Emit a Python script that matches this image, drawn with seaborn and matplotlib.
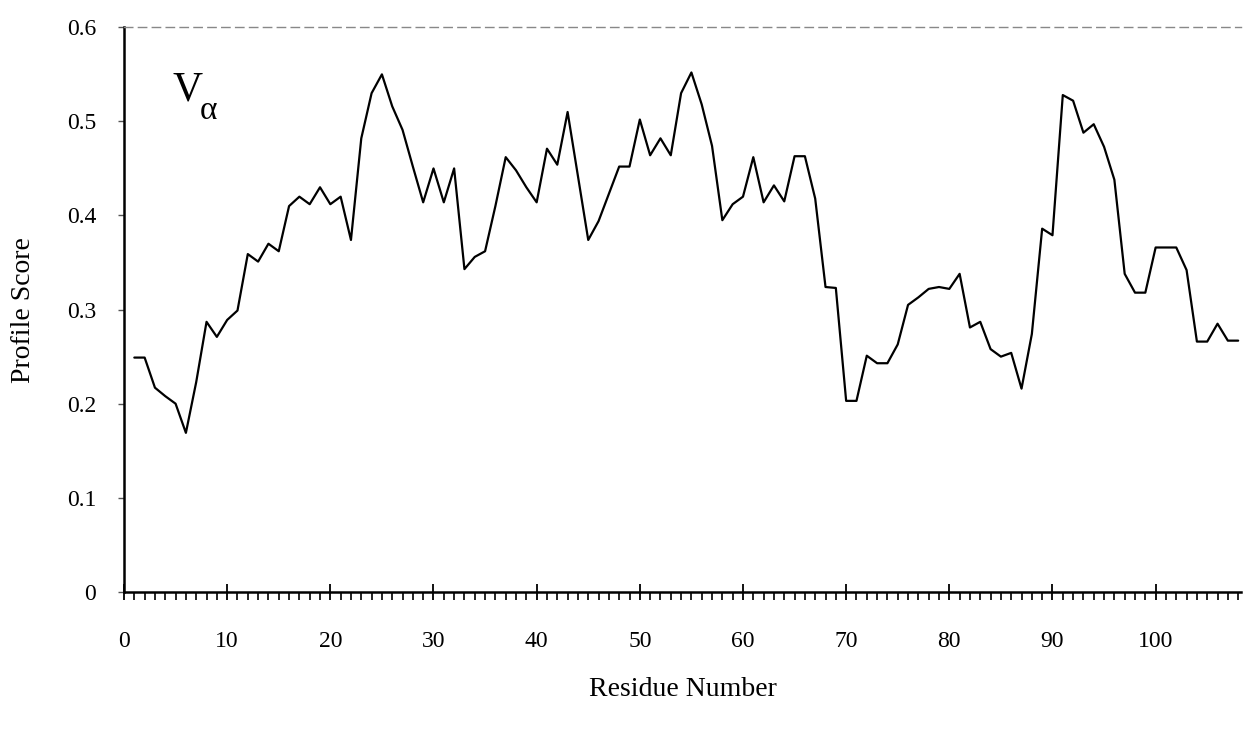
import numpy as np
import pandas as pd
import matplotlib
matplotlib.use("Agg")
import matplotlib.pyplot as plt
import seaborn as sns
from matplotlib.ticker import MultipleLocator

residues = list(range(1, 109))
scores = [
    0.249, 0.249, 0.217, 0.208, 0.200, 0.169, 0.223, 0.287, 0.271, 0.289,
    0.299, 0.359, 0.351, 0.370, 0.362, 0.410, 0.420, 0.412, 0.430, 0.412,
    0.420, 0.374, 0.482, 0.530, 0.550, 0.516, 0.491, 0.452, 0.414, 0.450,
    0.414, 0.450, 0.343, 0.356, 0.362, 0.410, 0.462, 0.448, 0.430, 0.414,
    0.471, 0.454, 0.510, 0.442, 0.374, 0.394, 0.423, 0.452, 0.452, 0.502,
    0.464, 0.482, 0.464, 0.530, 0.552, 0.518, 0.474, 0.395, 0.412, 0.420,
    0.462, 0.414, 0.432, 0.415, 0.463, 0.463, 0.418, 0.324, 0.323, 0.203,
    0.203, 0.251, 0.243, 0.243, 0.263, 0.305, 0.313, 0.322, 0.324, 0.322,
    0.338, 0.281, 0.287, 0.258, 0.250, 0.254, 0.216, 0.274, 0.386, 0.379,
    0.528, 0.522, 0.488, 0.497, 0.473, 0.438, 0.338, 0.318, 0.318, 0.366,
    0.366, 0.366, 0.342, 0.266, 0.266, 0.285, 0.267, 0.267,
]
x_ticks = [0, 10, 20, 30, 40, 50, 60, 70, 80, 90, 100]
y_ticks = [0, 0.1, 0.2, 0.3, 0.4, 0.5, 0.6]
y_tick_labels = ["0", "0.1", "0.2", "0.3", "0.4", "0.5", "0.6"]
x_label = "Residue Number"
y_label = "Profile Score"
panel_main = "V"
panel_sub = "α"

sns.set_style("ticks")
plt.rcParams["font.family"] = ["Liberation Serif", "DejaVu Serif"]
plt.rcParams["text.color"] = "black"
plt.rcParams["axes.labelcolor"] = "black"
plt.rcParams["xtick.color"] = "black"
plt.rcParams["ytick.color"] = "black"

df = pd.DataFrame({"Residue": residues, "Score": scores})

fig = plt.figure(figsize=(12.45, 7.38), dpi=100)
ax = fig.add_axes([0.0996, 0.198, 0.8974, 0.765])

sns.lineplot(data=df, x="Residue", y="Score", ax=ax, color="black", linewidth=1.6)

ax.set_xlim(0, 108.3)
ax.set_ylim(0, 0.6)

ax.set_xticks(x_ticks)
ax.set_xticklabels([str(t) for t in x_ticks])
ax.xaxis.set_minor_locator(MultipleLocator(1))
ax.set_yticks(y_ticks)
ax.set_yticklabels(y_tick_labels)

ax.tick_params(axis="x", which="major", direction="inout", length=12, width=1.3,
               colors="black", labelsize=17, pad=22)
ax.tick_params(axis="x", which="minor", direction="out", length=6, width=1.2,
               colors="black")
ax.tick_params(axis="y", which="major", direction="out", length=4, width=1.0,
               color="#555555", labelcolor="black", labelsize=17, pad=16)

for side in ["left", "bottom"]:
    ax.spines[side].set_color("black")
    ax.spines[side].set_linewidth(1.8)
ax.spines["right"].set_visible(False)
ax.spines["top"].set_visible(True)
ax.spines["top"].set_color("#888888")
ax.spines["top"].set_linewidth(1.0)
ax.spines["top"].set_linestyle((0, (6, 4)))

ax.set_xlabel(x_label, fontsize=20, labelpad=18, color="black")
ax.set_ylabel(y_label, fontsize=20, labelpad=22, color="black")

ax.text(4.7, 0.522, panel_main, fontsize=30, ha="left", va="baseline", color="black")
ax.text(7.3, 0.503, panel_sub, fontsize=24, ha="left", va="baseline", color="black")

fig.savefig("out.png", dpi=100)
